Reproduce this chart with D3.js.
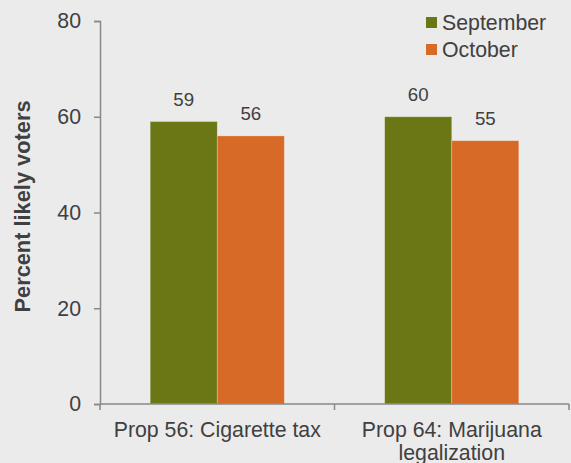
<!DOCTYPE html>
<html>
<head>
<meta charset="utf-8">
<script src="https://cdn.jsdelivr.net/npm/d3@7"></script>
<style>
  body { margin: 0; background: #ebebeb; }
  svg { display: block; font-family: "Liberation Sans", Arial, sans-serif; }
  .axis path, .axis line { stroke: #898989; stroke-width: 1.5; }
  .axis text { fill: #404040; font-size: 21.3px; }
</style>
</head>
<body>
<div id="chart"></div>
<script>
// values
const categories = ["Prop 56: Cigarette tax", "Prop 64: Marijuana legalization"];
const seriesNames = ["September", "October"];
const september = [59, 60];
const october = [56, 55];
const yTicks = [0, 20, 40, 60, 80];
const colors = ["#6a7714", "#d86a28"];

const width = 571, height = 463;
const margin = {top: 21, right: 2, bottom: 59, left: 100};

const rows = categories.map((c, i) => ({
    category: c,
    values: [
        { series: seriesNames[0], value: september[i] },
        { series: seriesNames[1], value: october[i] }
    ]
}));

const svg = d3.select('#chart')
    .append('svg')
    .attr('width', width)
    .attr('height', height);

const x0 = d3.scaleBand()
    .domain(categories)
    .range([margin.left, width - margin.right])
    .padding(0);

// bars take the middle part of each category band
const x1 = d3.scaleBand()
    .domain(seriesNames)
    .range([x0.bandwidth() * 0.214, x0.bandwidth() * 0.786])
    .padding(0);

const y = d3.scaleLinear()
    .domain([0, 80])
    .range([height - margin.bottom, margin.top]);

const color = d3.scaleOrdinal().domain(seriesNames).range(colors);

// bars
const groups = svg.selectAll('g.group')
    .data(rows)
    .enter()
    .append('g')
    .attr('class', 'group')
    .attr('transform', d => `translate(${x0(d.category)},0)`);

groups.selectAll('rect')
    .data(d => d.values)
    .enter()
    .append('rect')
    .attr('x', d => x1(d.series))
    .attr('y', d => y(d.value))
    .attr('width', x1.bandwidth())
    .attr('height', d => y(0) - y(d.value))
    .attr('fill', d => color(d.series))
    .attr('stroke', 'rgba(255,255,255,0.35)')
    .attr('stroke-width', 0.75);

groups.selectAll('text.value')
    .data(d => d.values)
    .enter()
    .append('text')
    .attr('class', 'value')
    .attr('x', d => x1(d.series) + x1.bandwidth() / 2)
    .attr('y', d => y(d.value) - 15.5)
    .attr('text-anchor', 'middle')
    .attr('fill', '#404040')
    .style('font-size', '18.7px')
    .text(d => d.value);

// y axis
svg.append('g')
    .attr('class', 'axis y-axis')
    .attr('transform', `translate(${margin.left},0)`)
    .call(d3.axisLeft(y).tickValues(yTicks).tickSize(6).tickPadding(13));

// x axis: labels centred, ticks on the band edges
const xAxisG = svg.append('g')
    .attr('class', 'axis x-axis')
    .attr('transform', `translate(0,${y(0)})`)
    .call(d3.axisBottom(x0).tickSize(0).tickPadding(18).tickSizeOuter(0));

xAxisG.select('.domain').remove();
xAxisG.append('line')
    .attr('x1', x0.range()[0])
    .attr('x2', x0.range()[1])
    .attr('y1', 0)
    .attr('y2', 0);
xAxisG.selectAll('line.edge')
    .data(categories.map(c => x0(c)).concat([x0.range()[1]]))
    .enter()
    .append('line')
    .attr('class', 'edge')
    .attr('x1', d => d)
    .attr('x2', d => d)
    .attr('y1', 0)
    .attr('y2', 6);

xAxisG.selectAll('.tick text').call(wrap, x0.bandwidth() - 10);

function wrap(text, w) {
    text.each(function() {
        let t = d3.select(this);
        let words = t.text().split(/\s+/).reverse();
        let line = [];
        let lineNumber = 0;
        let yPos = t.attr('y');
        let dy = parseFloat(t.attr('dy'));
        let tspan = t.text(null).append('tspan').attr('x', 0).attr('y', yPos).attr('dy', dy + 'em');
        let word;
        while ((word = words.pop())) {
            line.push(word);
            tspan.text(line.join(' '));
            if (tspan.node().getComputedTextLength() > w && line.length > 1) {
                line.pop();
                tspan.text(line.join(' '));
                line = [word];
                tspan = t.append('tspan')
                    .attr('x', 0)
                    .attr('y', yPos)
                    .attr('dy', (++lineNumber * 1.07 + dy) + 'em')
                    .text(word);
            }
        }
    });
}

// y axis title
svg.append('text')
    .attr('transform', `translate(30,${(margin.top + y(0)) / 2 - 6}) rotate(-90)`)
    .attr('text-anchor', 'middle')
    .attr('fill', '#404040')
    .style('font-size', '21.8px')
    .style('font-weight', 'bold')
    .text('Percent likely voters');

// legend
const legend = svg.append('g')
    .attr('transform', 'translate(426,17)');

const legendItems = legend.selectAll('g')
    .data(seriesNames)
    .enter()
    .append('g')
    .attr('transform', (d, i) => `translate(0,${i * 27})`);

legendItems.append('rect')
    .attr('width', 11)
    .attr('height', 11)
    .attr('fill', d => color(d));

legendItems.append('text')
    .attr('x', 16)
    .attr('y', 5.5)
    .attr('dy', '0.35em')
    .attr('fill', '#404040')
    .style('font-size', '21.3px')
    .text(d => d);
</script>
</body>
</html>
